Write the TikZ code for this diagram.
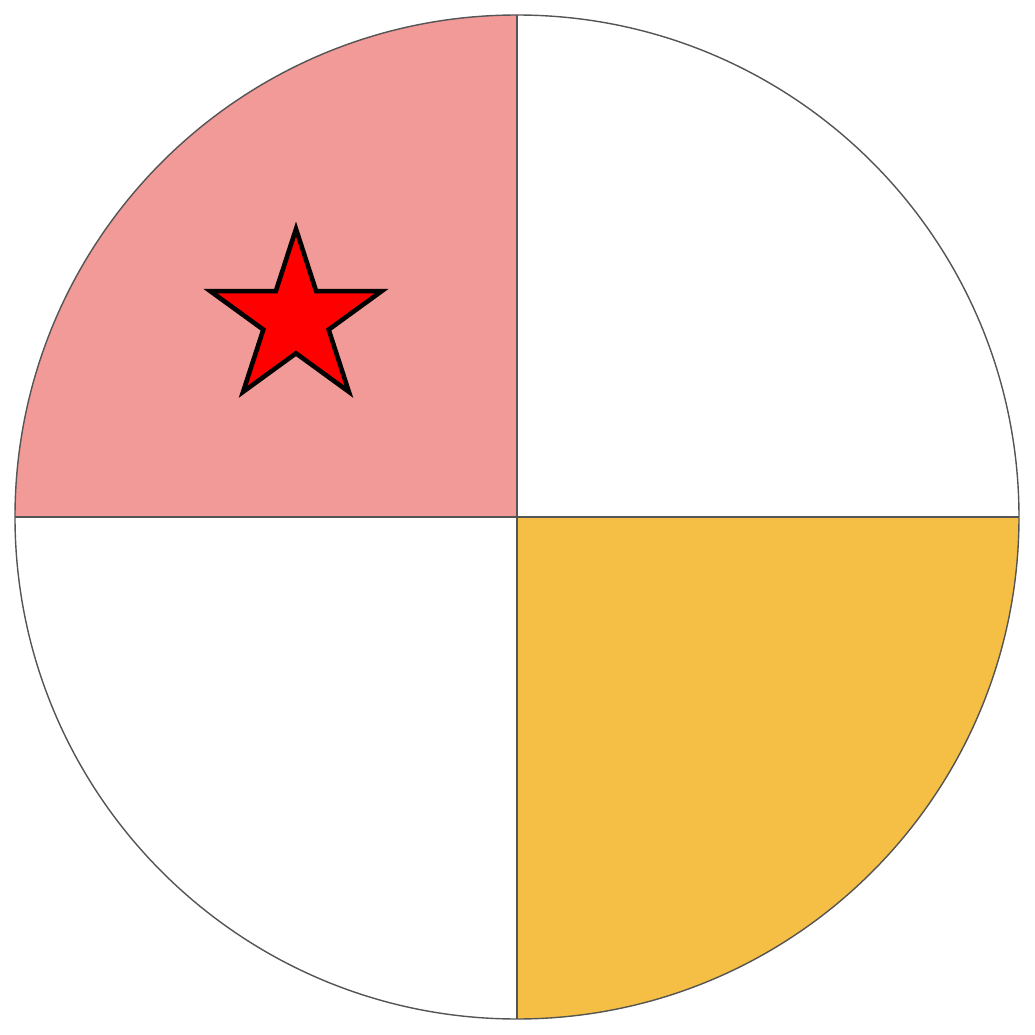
\documentclass[tikz,border=0pt]{standalone}
\usetikzlibrary{shapes.geometric}
\definecolor{quadpink}{HTML}{F19A98}
\definecolor{quadgold}{HTML}{F5BF45}
\definecolor{edgegray}{HTML}{555555}
\begin{document}
\begin{tikzpicture}[
    rim/.style={draw=edgegray, line width=0.4pt},
    divider/.style={draw=edgegray, line width=0.75pt},
    redstar/.style={star, star points=5, star point ratio=2.62, minimum size=1.8cm, inner sep=0pt, draw=black, fill=red, line width=1.3pt},
]
\useasboundingbox (0,0) rectangle (10.35,10.35);
\coordinate (O) at (5.17,5.18);
% filled quadrants
\fill[quadpink] (O) -- ++(-5.02,0) arc (180:90:5.02) -- cycle;
\fill[quadgold] (O) -- ++(5.02,0) arc (0:-90:5.02) -- cycle;
% circle and dividers
\draw[rim] (O) circle (5.02);
\draw[divider] ([xshift=-5.02cm]O) -- ([xshift=5.02cm]O);
\draw[divider] ([yshift=5.02cm]O) -- ([yshift=-5.02cm]O);
% star marker
\node[redstar] (mark) at (2.96,7.16) {};
\end{tikzpicture}
\end{document}
